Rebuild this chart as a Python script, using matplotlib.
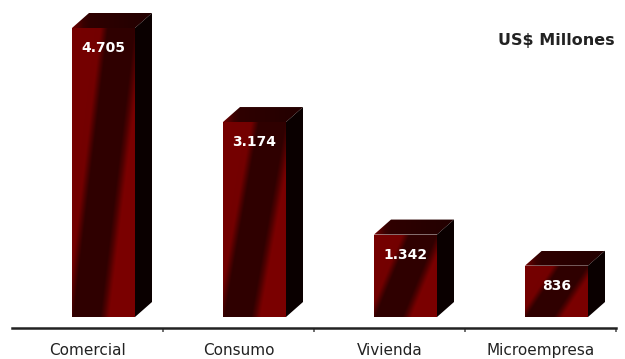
import numpy as np
import matplotlib
matplotlib.use("Agg")
import matplotlib.pyplot as plt
from matplotlib.patches import Polygon
from matplotlib.colors import LinearSegmentedColormap

categories = ["Comercial", "Consumo", "Vivienda", "Microempresa"]
values = [4705, 3174, 1342, 836]
value_labels = ["4.705", "3.174", "1.342", "836"]
unit_label = "US$ Millones"

W, H = 625, 359
fig = plt.figure(figsize=(W / 100, H / 100), dpi=100)
# axes: x from px 12 to 616, axis line at px 328 from top, top at px 0
ax = fig.add_axes([12 / W, (H - 328) / H, 604 / W, 328 / H])
ppu = 289 / 4705.0  # pixels per unit (value)
ymin = -11 / ppu
ymax = 317 / ppu
ax.set_xlim(-0.5, 3.5)
ax.set_ylim(ymin, ymax)

cat_px = 151.0
off = 16 / cat_px
bw = 63 / cat_px
dx = 17 / cat_px
dy = 15 / ppu

front_cmap = LinearSegmentedColormap.from_list(
    "f", ["#2c0000", "#4a0000", "#6a0000", "#820000"])
top_cmap = LinearSegmentedColormap.from_list("t", ["#200000", "#3a0000", "#7a0000"])

u_pts = [-1.0, -0.1, 0.02, 0.45, 0.52, 0.6, 1.0]
lv_pts = [0.85, 0.8, 0.04, 0.04, 0.4, 0.9, 0.9]

for i, v in enumerate(values):
    x0 = i + off - bw / 2
    x1 = x0 + bw
    nx, ny = 90, 300
    xs = np.linspace(0, 1, nx)
    ys = np.linspace(0, 1, ny)
    X, Y = np.meshgrid(xs, ys)
    U = X - 0.55 * Y
    Z = np.interp(U, u_pts, lv_pts)
    front = Polygon([(x0, 0), (x1, 0), (x1, v), (x0, v)], closed=True,
                    facecolor="none", edgecolor="none")
    ax.add_patch(front)
    im = ax.imshow(Z, extent=(x0, x1, 0, v), origin="lower", cmap=front_cmap,
                   aspect="auto", vmin=0, vmax=1, zorder=2, interpolation="bilinear")
    im.set_clip_path(front)
    # top face
    top = Polygon([(x0, v), (x1, v), (x1 + dx, v + dy), (x0 + dx, v + dy)],
                  closed=True, facecolor="none", edgecolor="none")
    ax.add_patch(top)
    T = np.tile(np.linspace(0.35, 0.05, 60), (10, 1))
    T[:, :12] = np.linspace(0.9, 0.35, 12)
    im2 = ax.imshow(T, extent=(x0, x1 + dx, v, v + dy), origin="lower",
                    cmap=top_cmap, aspect="auto", vmin=0, vmax=1, zorder=2,
                    interpolation="bilinear")
    im2.set_clip_path(top)
    # side face
    side = Polygon([(x1, 0), (x1 + dx, dy), (x1 + dx, v + dy), (x1, v)],
                   closed=True, facecolor="#0a0000", edgecolor="none", zorder=3)
    ax.add_patch(side)
    ax.text(i + off, v - 20 / ppu, value_labels[i], color="white",
            fontsize=10, fontweight="bold", ha="center", va="center", zorder=5)

for s in ["top", "left", "right"]:
    ax.spines[s].set_visible(False)
ax.spines["bottom"].set_position(("data", ymin))
ax.spines["bottom"].set_linewidth(1.8)
ax.spines["bottom"].set_color("#222222")
ax.set_yticks([])
ax.set_xticks([0.5, 1.5, 2.5, 3.5])
ax.set_xticklabels([])
ax.tick_params(axis="x", which="major", length=3, width=1.2, color="#555555")
ax.set_xticks(range(len(categories)), minor=True)
ax.set_xticklabels(categories, minor=True, fontsize=11, color="#222222")
ax.tick_params(axis="x", which="minor", length=0, pad=11)
ax.patch.set_alpha(0)

fig.text(615 / W, 1 - 40 / H, unit_label, ha="right", va="center",
         fontsize=11.5, fontweight="bold", color="#222222")

fig.savefig("out.png", dpi=100)
